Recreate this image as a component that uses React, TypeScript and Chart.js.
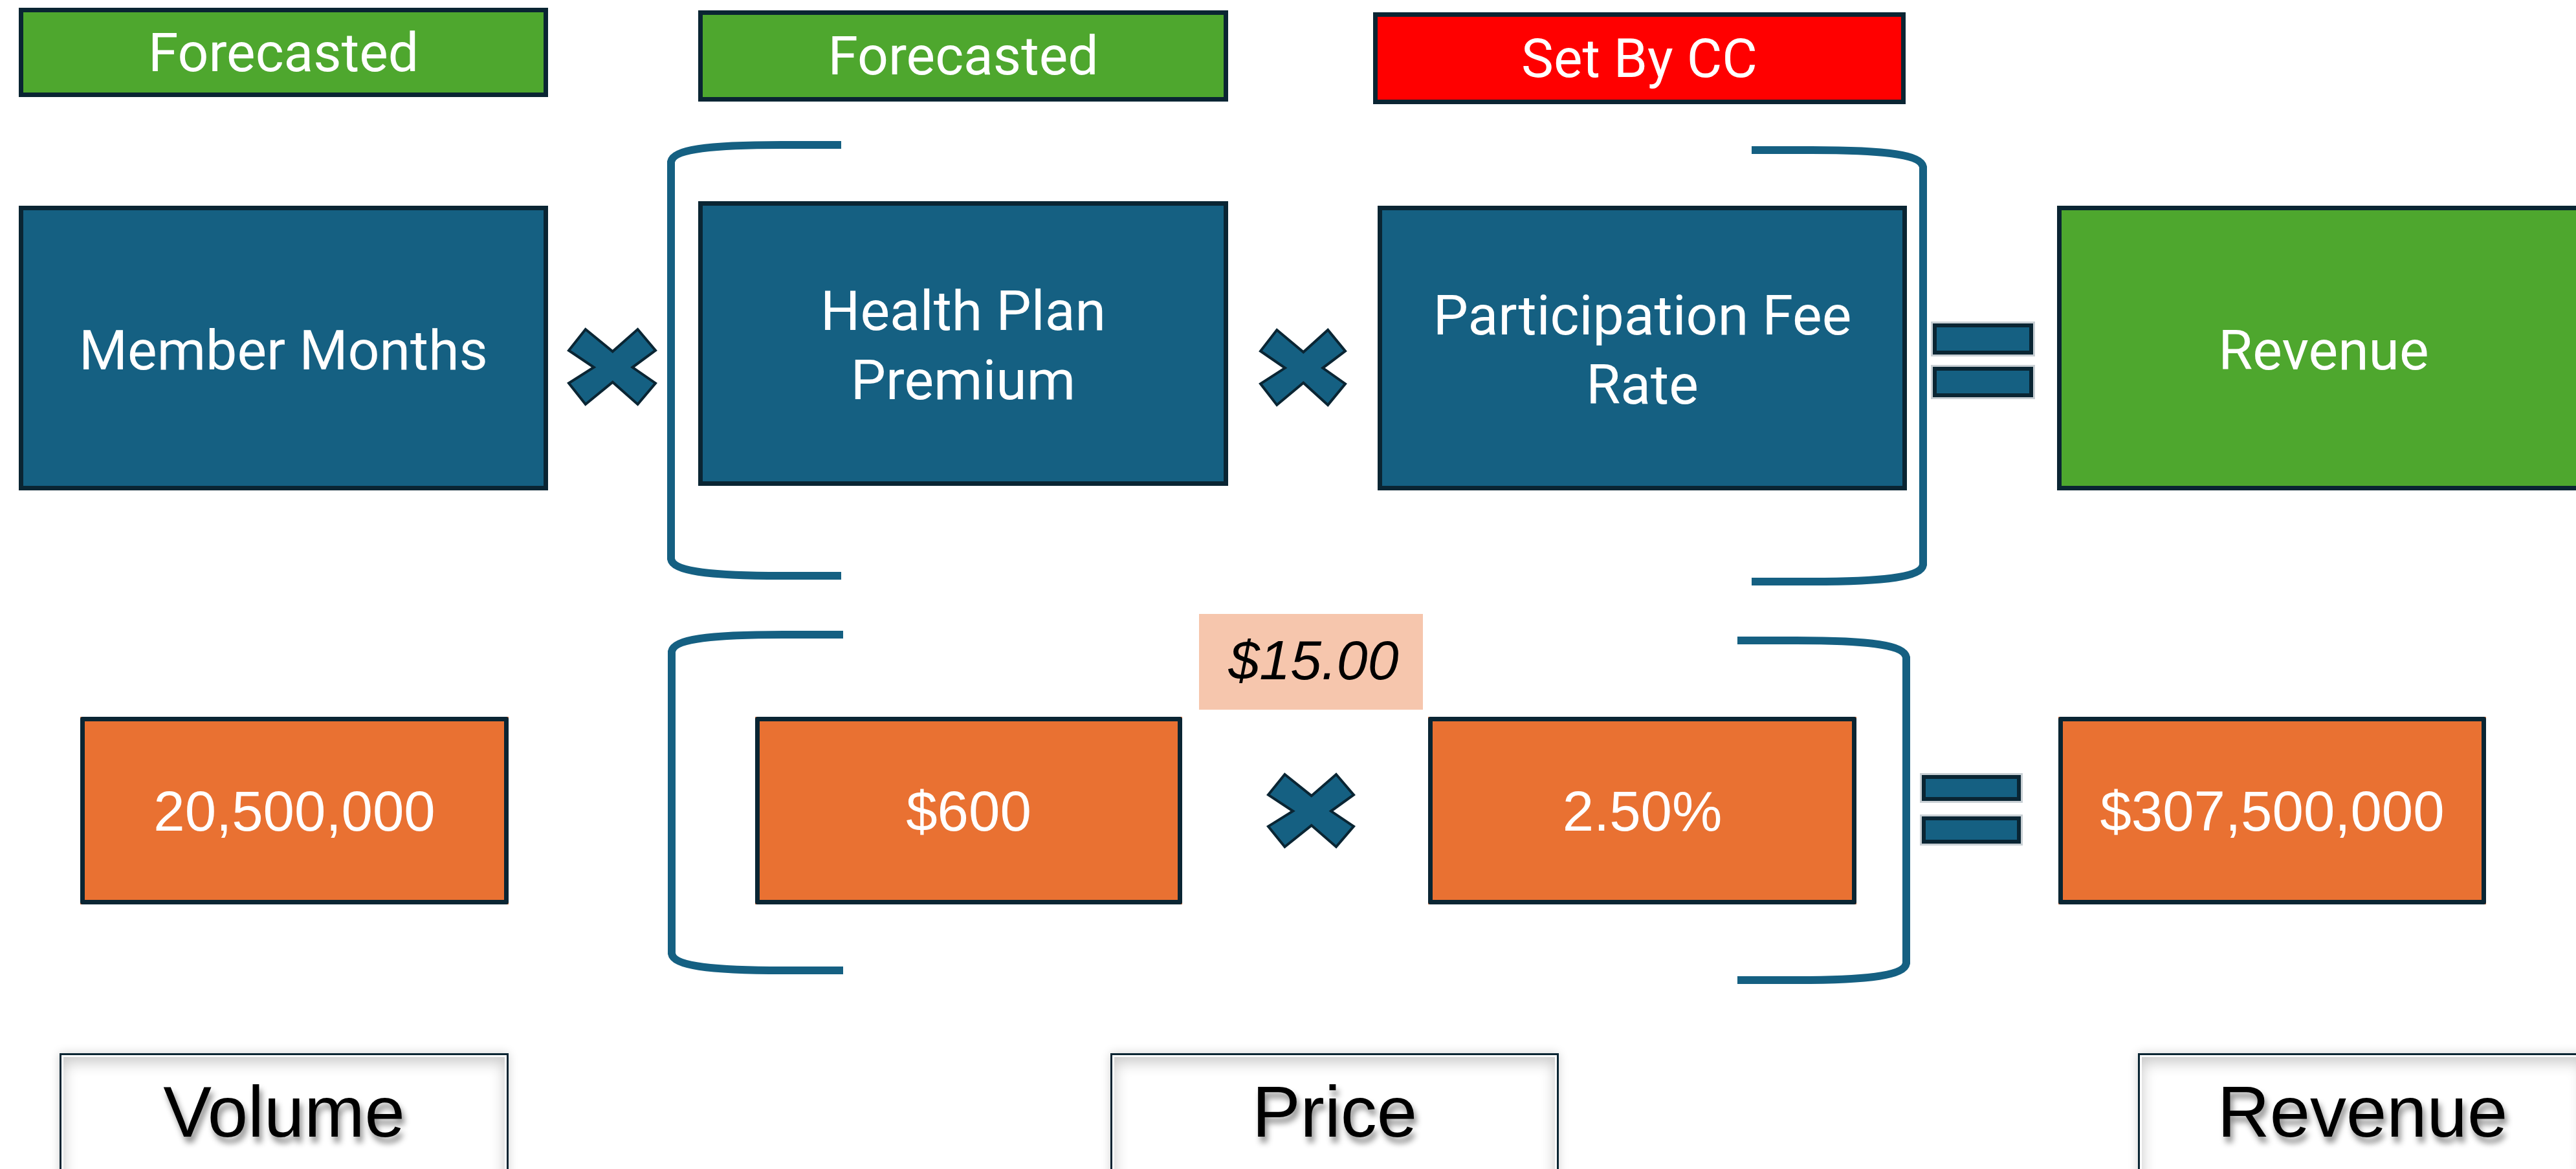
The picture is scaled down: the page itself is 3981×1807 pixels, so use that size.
import React, { useEffect, useRef } from "react";
import { Chart, registerables } from "chart.js";

Chart.register(...registerables);

// ---------------- data ----------------
const headerLabels = ["Forecasted", "Forecasted", "Set By CC"];
const termLabels = [["Member Months"], ["Health Plan", "Premium"], ["Participation Fee", "Rate"], ["Revenue"]];
const memberMonths = 20500000;
const premium = 600;
const feeRate = 0.025;
const perMemberFee = 15.0;
const revenue = 307500000;
const groupLabels = ["Volume", "Price", "Revenue"];

const valueTexts = [
  memberMonths.toLocaleString("en-US"),
  "$" + premium.toLocaleString("en-US"),
  (feeRate * 100).toFixed(2) + "%",
  "$" + revenue.toLocaleString("en-US"),
];
const feeText = "$" + perMemberFee.toFixed(2);

// ---------------- layout (diagram coordinates) ----------------
const W = 3981;
const H = 1807;
const HEADER_BOXES = [[29, 12, 847, 150], [1079, 16, 1898, 157], [2122, 19, 2945, 161]];
const TERM_BOXES = [[29, 318, 847, 758], [1079, 311, 1898, 751], [2129, 318, 2947, 758], [3179, 318, 4010, 758]];
const VALUE_BOXES = [[124, 1108, 786, 1398], [1167, 1108, 1827, 1398], [2207, 1108, 2869, 1398], [3181, 1108, 3842, 1398]];
const FEE_BOX = [1853, 949, 2199, 1097];
const GROUP_BOXES = [[92, 1628, 786, 1900], [1716, 1628, 2409, 1900], [3304, 1628, 3998, 1900]];
const TIMES = [[877, 507, 1015, 627], [1946, 508, 2081, 628], [1958, 1195, 2094, 1311]];
const EQUALS = [[2984, 3145, 497, 551, 564, 617], [2967, 3126, 1195, 1241, 1259, 1307]];
// [verticalX, topArmY, bottomArmY, armEndX]
const BRACKETS = [[1037, 224, 890, 1300], [2972, 232, 899, 2707], [1038, 981, 1500, 1303], [2946, 990, 1515, 2685]];

// ---------------- styles ----------------
const BLUE = "#156082";
const NAVY = "#0A2533";
const GREEN = "#4EA72E";
const RED = "#FF0000";
const ORANGE = "#E97132";
const PEACH = "#F6C6AD";
const HEADER_FILLS = [GREEN, GREEN, RED];
const TERM_FILLS = [BLUE, BLUE, BLUE, GREEN];
const SANS = "Roboto, 'Noto Sans', sans-serif";
const ARIAL = "'Liberation Sans', Arial, sans-serif";

const diagramPlugin = {
  id: "diagram",
  afterDraw(chart: any) {
    const ctx: CanvasRenderingContext2D = chart.ctx;
    const xs = chart.scales.x;
    const ys = chart.scales.y;
    const px = (v: number) => xs.getPixelForValue(v);
    const py = (v: number) => ys.getPixelForValue(v);

    const box = (b: number[], fill: string, lw: number, stroke: string) => {
      const x0 = px(b[0]), y0 = py(b[1]), x1 = px(b[2]), y1 = py(b[3]);
      ctx.fillStyle = fill;
      ctx.fillRect(x0, y0, x1 - x0, y1 - y0);
      if (lw > 0) {
        ctx.strokeStyle = stroke;
        ctx.lineWidth = lw;
        ctx.strokeRect(x0 + lw / 2, y0 + lw / 2, x1 - x0 - lw, y1 - y0 - lw);
      }
    };

    const text = (s: string, cx: number, cy: number, size: number, family: string, color: string, capRatio: number, style = "") => {
      ctx.font = `${style} ${size}px ${family}`;
      ctx.fillStyle = color;
      ctx.textAlign = "center";
      ctx.textBaseline = "alphabetic";
      ctx.fillText(s, px(cx), py(cy) + (capRatio * size) / 2);
    };

    ctx.save();
    ctx.fillStyle = "#ffffff";
    ctx.fillRect(0, 0, chart.width, chart.height);

    // header boxes
    HEADER_BOXES.forEach((b, i) => {
      box(b, HEADER_FILLS[i], 7, NAVY);
      text(headerLabels[i], (b[0] + b[2]) / 2, (b[1] + b[3]) / 2 - 1, 84, SANS, "#ffffff", 0.711);
    });

    // term boxes
    TERM_BOXES.forEach((b, i) => {
      box(b, TERM_FILLS[i], 7, NAVY);
      const cxm = (b[0] + b[2]) / 2;
      const cym = (b[1] + b[3]) / 2;
      const lines = termLabels[i];
      const cxText = i === 3 ? 3591 : cxm;
      if (lines.length === 1) {
        text(lines[0], cxText, cym + 2, 86, SANS, "#ffffff", 0.711);
      } else {
        text(lines[0], cxText, cym - 52, 86, SANS, "#ffffff", 0.711);
        text(lines[1], cxText, cym + 55, 86, SANS, "#ffffff", 0.711);
      }
    });

    // brackets
    ctx.strokeStyle = BLUE;
    ctx.lineWidth = 12;
    ctx.lineCap = "butt";
    ctx.lineJoin = "round";
    BRACKETS.forEach((br) => {
      const [vx, yt, yb, xe] = br;
      const L = vx - xe;
      const arm = (ye: number, dir: number) => {
        // from arm end to corner, returns nothing; path continues
        ctx.lineTo(px(xe + 0.35 * L), py(ye));
        ctx.bezierCurveTo(px(xe + 0.8 * L), py(ye), px(vx - Math.sign(L) * 3), py(ye + dir * 8), px(vx), py(ye + dir * 26));
      };
      ctx.beginPath();
      ctx.moveTo(px(xe), py(yt));
      arm(yt, 1);
      ctx.lineTo(px(vx), py(yb - 26));
      ctx.bezierCurveTo(px(vx - Math.sign(L) * 3), py(yb - 8), px(xe + 0.8 * L), py(yb), px(xe + 0.35 * L), py(yb));
      ctx.lineTo(px(xe), py(yb));
      ctx.stroke();
    });

    // value boxes
    VALUE_BOXES.forEach((b, i) => {
      box(b, ORANGE, 7, NAVY);
      text(valueTexts[i], (b[0] + b[2]) / 2, (b[1] + b[3]) / 2, 87, ARIAL, "#ffffff", 0.716);
    });

    // per-member fee callout
    box(FEE_BOX, PEACH, 0, NAVY);
    text(feeText, (FEE_BOX[0] + FEE_BOX[2]) / 2 + 4, 1019, 86, ARIAL, "#000000", 0.716, "italic");

    // multiply signs
    const XPTS = [
      [0.193, 0], [0.506, 0.296], [0.795, 0], [1, 0.282], [0.735, 0.507], [1, 0.718],
      [0.795, 1], [0.506, 0.704], [0.193, 1], [0, 0.718], [0.289, 0.507], [0, 0.282],
    ];
    TIMES.forEach((t) => {
      const [x0, y0, x1, y1] = t;
      ctx.beginPath();
      XPTS.forEach((p, k) => {
        const X = px(x0 + 2 + p[0] * (x1 - x0 - 4));
        const Y = py(y0 + 2 + p[1] * (y1 - y0 - 4));
        if (k === 0) ctx.moveTo(X, Y);
        else ctx.lineTo(X, Y);
      });
      ctx.closePath();
      ctx.fillStyle = BLUE;
      ctx.fill();
      ctx.strokeStyle = NAVY;
      ctx.lineWidth = 4;
      ctx.lineJoin = "miter";
      ctx.stroke();
    });

    // equals signs
    EQUALS.forEach((e) => {
      const [x0, x1, a0, a1, b0, b1] = e;
      [[a0, a1], [b0, b1]].forEach(([y0, y1]) => {
        const X0 = px(x0), X1 = px(x1), Y0 = py(y0), Y1 = py(y1);
        ctx.fillStyle = "#c9d0d5";
        ctx.fillRect(X0, Y0, X1 - X0, Y1 - Y0);
        ctx.fillStyle = BLUE;
        ctx.fillRect(X0 + 3, Y0 + 3, X1 - X0 - 6, Y1 - Y0 - 6);
        ctx.strokeStyle = NAVY;
        ctx.lineWidth = 6;
        ctx.strokeRect(X0 + 6, Y0 + 6, X1 - X0 - 12, Y1 - Y0 - 12);
      });
    });

    // group label boxes
    GROUP_BOXES.forEach((b, i) => {
      const x0 = px(b[0]), y0 = py(b[1]), x1 = px(b[2]), y1 = py(b[3]);
      const w = x1 - x0, h = y1 - y0;
      ctx.save();
      ctx.shadowColor = "rgba(0,0,0,0.18)";
      ctx.shadowBlur = 14;
      ctx.fillStyle = "#ffffff";
      ctx.fillRect(x0, y0, w, h);
      ctx.restore();
      // inner shadow
      ctx.save();
      ctx.beginPath();
      ctx.rect(x0, y0, w, h);
      ctx.clip();
      ctx.shadowColor = "rgba(0,0,0,0.22)";
      ctx.shadowBlur = 22;
      ctx.shadowOffsetY = 8;
      ctx.beginPath();
      ctx.rect(x0 - 200, y0 - 200, w + 400, h + 400);
      ctx.rect(x0 + 6, y0 + 6, w - 12, h - 12);
      ctx.fillStyle = "#ffffff";
      ctx.fill("evenodd");
      ctx.restore();
      ctx.strokeStyle = NAVY;
      ctx.lineWidth = 3;
      ctx.strokeRect(x0 + 1.5, y0 + 1.5, w - 3, h - 3);
      // text with shadow
      ctx.save();
      ctx.shadowColor = "rgba(0,0,0,0.45)";
      ctx.shadowBlur = 10;
      ctx.shadowOffsetX = 4;
      ctx.shadowOffsetY = 9;
      ctx.font = `112px ${ARIAL}`;
      ctx.fillStyle = "#000000";
      ctx.textAlign = "center";
      ctx.textBaseline = "alphabetic";
      const cx = i === 2 ? 3651 : (b[0] + b[2]) / 2;
      ctx.fillText(groupLabels[i], px(cx), py(1757));
      ctx.restore();
    });

    ctx.restore();
  },
};

export default function App() {
  const ref = useRef<HTMLCanvasElement | null>(null);
  useEffect(() => {
    document.body.style.margin = "0";
    document.body.style.overflow = "hidden";
    if (!ref.current) return;
    const chart = new Chart(ref.current, {
      type: "scatter",
      data: { datasets: [{ data: [], pointRadius: 0 }] },
      options: {
        animation: false,
        responsive: false,
        devicePixelRatio: 1,
        layout: { padding: 0 },
        plugins: { legend: { display: false }, tooltip: { enabled: false } },
        scales: {
          x: { type: "linear", min: 0, max: W, display: false },
          y: { type: "linear", min: 0, max: H, reverse: true, display: false },
        },
      },
      plugins: [diagramPlugin],
    });
    return () => chart.destroy();
  }, []);
  return (
    <div style={{ width: W, height: H }}>
      <canvas ref={ref} width={W} height={H} style={{ display: "block", width: W, height: H }} />
    </div>
  );
}
